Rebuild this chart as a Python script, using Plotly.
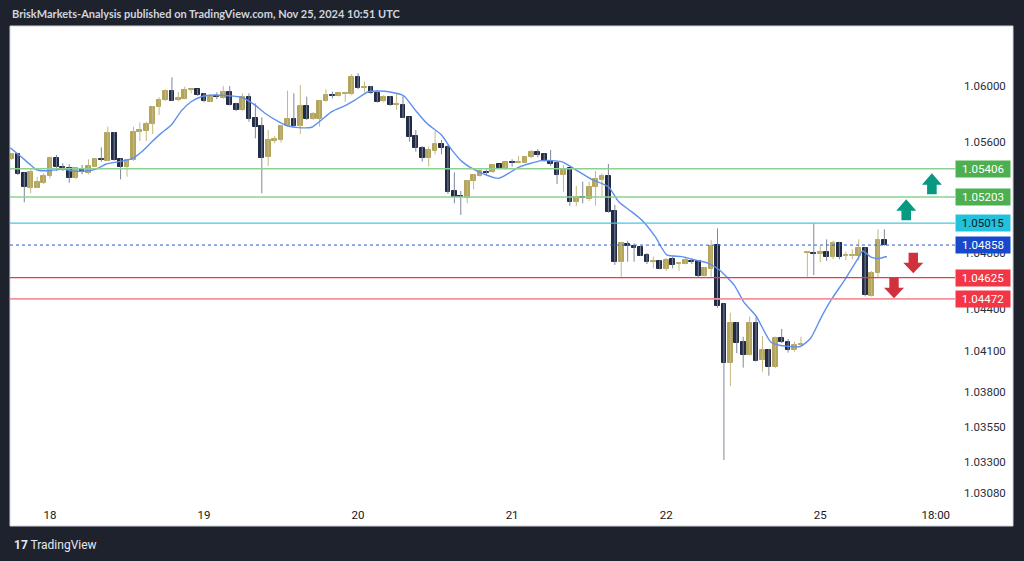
import plotly.graph_objects as go

# ---------------- data (EURUSD 1H) ----------------
bar_index = list(range(-6, 131))

open_ = [1.05476, 1.05510, 1.05373, 1.05270, 1.05270, 1.05306,
         1.05354, 1.05481, 1.05421, 1.05414, 1.05337, 1.05404, 1.05373, 1.05421, 1.05474, 1.05464,
         1.05660, 1.05476, 1.05416, 1.05469, 1.05668, 1.05679, 1.05725, 1.05851, 1.05899, 1.05964,
         1.05897, 1.05909, 1.05971, 1.05976, 1.05940, 1.05887, 1.05928, 1.05912, 1.05955, 1.05869,
         1.05828, 1.05919, 1.05768, 1.05713, 1.05488, 1.05605, 1.05612, 1.05713, 1.05761, 1.05713,
         1.05859, 1.05763, 1.05763, 1.05892, 1.05935, 1.05928, 1.05945, 1.05940, 1.06062, 1.05986,
         1.05991, 1.05948, 1.05892, 1.05923, 1.05866, 1.05864, 1.05775, 1.05641, 1.05553, 1.05481,
         1.05533, 1.05581, 1.05564, 1.05246, 1.05210, 1.05194, 1.05318, 1.05354, 1.05385, 1.05380,
         1.05438, 1.05404, 1.05457, 1.05450, 1.05450, 1.05488, 1.05524, 1.05512, 1.05464, 1.05450,
         1.05361, 1.05409, 1.05165, 1.05203, 1.05189, 1.05273, 1.05325, 1.05354, 1.05103, 1.04739,
         1.04866, 1.04854, 1.04842, 1.04787, 1.04737, 1.04743, 1.04686, 1.04756, 1.04719, 1.04722,
         1.04746, 1.04746, 1.04638, 1.04686, 1.04858, 1.04433, 1.04014, 1.04296, 1.04165, 1.04069,
         1.04296, 1.04033, 1.04105, 1.03980, 1.04193, 1.04160, 1.04105, 1.04141, 1.04801, 1.04804,
         1.04792, 1.04811, 1.04775, 1.04871, 1.04782, 1.04782, 1.04782, 1.04839, 1.04495, 1.04656,
         1.04894]
high = [1.05520, 1.05515, 1.05380, 1.05409, 1.05347, 1.05373,
        1.05493, 1.05505, 1.05445, 1.05438, 1.05418, 1.05433, 1.05474, 1.05483, 1.05560, 1.05708,
        1.05670, 1.05480, 1.05478, 1.05708, 1.05739, 1.05744, 1.05856, 1.05919, 1.05976, 1.06062,
        1.05957, 1.05995, 1.05978, 1.05979, 1.05950, 1.05943, 1.05955, 1.06000, 1.06000, 1.05880,
        1.05948, 1.05948, 1.05876, 1.05775, 1.05684, 1.05643, 1.05720, 1.05966, 1.05948, 1.06007,
        1.05923, 1.05813, 1.05899, 1.05976, 1.05959, 1.05959, 1.05959, 1.06086, 1.06091, 1.06031,
        1.06000, 1.05971, 1.05935, 1.05928, 1.05948, 1.05928, 1.05778, 1.05684, 1.05569, 1.05564,
        1.05677, 1.05612, 1.05576, 1.05380, 1.05246, 1.05325, 1.05366, 1.05402, 1.05402, 1.05438,
        1.05440, 1.05455, 1.05474, 1.05497, 1.05497, 1.05541, 1.05546, 1.05516, 1.05541, 1.05462,
        1.05433, 1.05412, 1.05282, 1.05313, 1.05313, 1.05390, 1.05373, 1.05440, 1.05146, 1.04882,
        1.04889, 1.04871, 1.04851, 1.04801, 1.04775, 1.04751, 1.04765, 1.04775, 1.04734, 1.04775,
        1.04763, 1.04751, 1.04700, 1.04894, 1.04978, 1.04439, 1.04373, 1.04305, 1.04200, 1.04344,
        1.04340, 1.04205, 1.04112, 1.04201, 1.04256, 1.04184, 1.04165, 1.04200, 1.04815, 1.05014,
        1.04851, 1.04899, 1.04889, 1.04882, 1.04811, 1.04828, 1.04899, 1.04843, 1.04672, 1.04971,
        1.04971]
low = [1.05470, 1.05360, 1.05165, 1.05230, 1.05268, 1.05296,
       1.05337, 1.05390, 1.05390, 1.05306, 1.05332, 1.05366, 1.05366, 1.05419, 1.05457, 1.05462,
       1.05465, 1.05330, 1.05349, 1.05462, 1.05605, 1.05605, 1.05655, 1.05792, 1.05892, 1.05892,
       1.05890, 1.05904, 1.05948, 1.05928, 1.05883, 1.05885, 1.05905, 1.05907, 1.05860, 1.05821,
       1.05821, 1.05744, 1.05624, 1.05230, 1.05426, 1.05589, 1.05593, 1.05706, 1.05706, 1.05655,
       1.05756, 1.05756, 1.05708, 1.05888, 1.05912, 1.05925, 1.05887, 1.05935, 1.05978, 1.05955,
       1.05943, 1.05880, 1.05883, 1.05856, 1.05828, 1.05768, 1.05600, 1.05528, 1.05457, 1.05421,
       1.05510, 1.05510, 1.05225, 1.05158, 1.05074, 1.05158, 1.05258, 1.05349, 1.05361, 1.05375,
       1.05404, 1.05400, 1.05421, 1.05445, 1.05445, 1.05483, 1.05488, 1.05458, 1.05426, 1.05296,
       1.05241, 1.05139, 1.05139, 1.05158, 1.05174, 1.05141, 1.05210, 1.05090, 1.04715, 1.04631,
       1.04739, 1.04739, 1.04780, 1.04722, 1.04691, 1.04683, 1.04672, 1.04691, 1.04674, 1.04719,
       1.04722, 1.04624, 1.04633, 1.04631, 1.04409, 1.03315, 1.03846, 1.04081, 1.03978, 1.04065,
       1.04022, 1.03949, 1.03920, 1.03975, 1.04155, 1.04086, 1.04093, 1.04134, 1.04631, 1.04643,
       1.04734, 1.04744, 1.04758, 1.04756, 1.04751, 1.04756, 1.04748, 1.04490, 1.04488, 1.04631,
       1.04851]
close = [1.05510, 1.05368, 1.05273, 1.05380, 1.05311, 1.05356,
         1.05481, 1.05416, 1.05414, 1.05337, 1.05409, 1.05380, 1.05426, 1.05474, 1.05467, 1.05660,
         1.05469, 1.05416, 1.05469, 1.05672, 1.05684, 1.05725, 1.05851, 1.05899, 1.05964, 1.05894,
         1.05916, 1.05971, 1.05975, 1.05933, 1.05894, 1.05923, 1.05919, 1.05955, 1.05864, 1.05828,
         1.05919, 1.05763, 1.05708, 1.05485, 1.05612, 1.05620, 1.05713, 1.05761, 1.05713, 1.05859,
         1.05761, 1.05799, 1.05892, 1.05935, 1.05928, 1.05948, 1.05950, 1.06062, 1.05983, 1.05993,
         1.05948, 1.05887, 1.05923, 1.05864, 1.05871, 1.05772, 1.05636, 1.05553, 1.05481, 1.05541,
         1.05581, 1.05557, 1.05237, 1.05205, 1.05201, 1.05318, 1.05361, 1.05392, 1.05378, 1.05433,
         1.05409, 1.05452, 1.05450, 1.05457, 1.05493, 1.05528, 1.05505, 1.05462, 1.05440, 1.05361,
         1.05404, 1.05165, 1.05205, 1.05194, 1.05277, 1.05330, 1.05354, 1.05098, 1.04739, 1.04871,
         1.04851, 1.04839, 1.04782, 1.04734, 1.04743, 1.04686, 1.04751, 1.04715, 1.04727, 1.04751,
         1.04737, 1.04636, 1.04691, 1.04853, 1.04422, 1.04014, 1.04296, 1.04157, 1.04069, 1.04296,
         1.04028, 1.04105, 1.03980, 1.04193, 1.04160, 1.04105, 1.04141, 1.04146, 1.04806, 1.04792,
         1.04811, 1.04775, 1.04871, 1.04775, 1.04789, 1.04789, 1.04835, 1.04500, 1.04656, 1.04894,
         1.04858]

# moving-average line, read at points along the curve (bar index, price)
ema_index = [-6.2, -4.5, -3, -2, 0, 2, 3.5, 5.6, 7.2, 8.8, 10.8, 12.9, 14.2, 15.8, 17.3, 18.9,
             20.5, 22, 23.6, 25.7, 27.7, 29.8, 31.9, 33.5, 35.6, 37.1, 38.7, 40.8, 42.3, 43.9,
             46, 47.5, 49.6, 51.2, 53.2, 55.1, 56.9, 58.7, 61, 62.6, 64.2, 66.5, 69.9, 73,
             76.6, 79.7, 81.8, 84.4, 87, 88.6, 90.6, 92.2, 94.3, 96.1, 98.4, 100.5, 102.6,
             104.3, 106.6, 108.1, 110, 112.3, 113.8, 116.9, 118.5, 120.1, 121.7, 123.8, 125.9,
             126.6, 128, 129.1, 130.4]
ema_value = [1.05557, 1.05492, 1.05433, 1.05397, 1.05392, 1.05404, 1.05390, 1.05390, 1.05404,
             1.05440, 1.05457, 1.05481, 1.05524, 1.05596, 1.05660, 1.05720, 1.05823, 1.05887,
             1.05923, 1.05935, 1.05930, 1.05919, 1.05864, 1.05804, 1.05744, 1.05713, 1.05701,
             1.05704, 1.05756, 1.05816, 1.05859, 1.05899, 1.05959, 1.05964, 1.05955, 1.05930,
             1.05828, 1.05732, 1.05648, 1.05541, 1.05457, 1.05390, 1.05337, 1.05416, 1.05464,
             1.05457, 1.05402, 1.05330, 1.05277, 1.05169, 1.05098, 1.05038, 1.04918, 1.04787,
             1.04775, 1.04751, 1.04727, 1.04679, 1.04571, 1.04449, 1.04349, 1.04162, 1.04137,
             1.04130, 1.04189, 1.04334, 1.04464, 1.04607, 1.04763, 1.04815, 1.04769, 1.04762,
             1.04776]

x_tick_index = [0, 24, 48, 72, 96, 120, 138]
x_tick_labels = ["18", "19", "20", "21", "22", "25", "18:00"]

y_tick_values = [1.06000, 1.05600, 1.04800, 1.04400, 1.04100, 1.03800, 1.03550, 1.03300, 1.03080]
y_tick_labels = ["1.06000", "1.05600", "1.04800", "1.04400", "1.04100", "1.03800",
                 "1.03550", "1.03300", "1.03080"]

level_values = [1.05406, 1.05203, 1.05015, 1.04858, 1.04625, 1.04472]
level_labels = ["1.05406", "1.05203", "1.05015", "1.04858", "1.04625", "1.04472"]

# drawn arrows: (bar index, price of tip, direction)
arrow_index = [137.4, 133.4, 134.5, 131.5]
arrow_price = [1.05373, 1.05187, 1.04655, 1.04476]
arrow_dir = ["up", "up", "down", "down"]

# ---------------- styling ----------------
W, H = 1024, 561
ML, MR, MT, MB = 10, 69, 26, 61
PW, PH = W - ML - MR, H - MT - MB

BG = "#1e222d"
UP_BODY, UP_WICK = "#b3a45e", "#c4b981"
DN_BODY, DN_WICK = "#222b45", "#7f8799"
EMA_COLOR = "#5f8ff0"

level_line = [("#8fd092", 1.6, "solid"), ("#8fd092", 1.6, "solid"), ("#4cc5df", 1.2, "solid"),
              ("#2a5bd7", 1.0, "dot"), ("#f23645", 1.3, "solid"), ("#f4929b", 1.6, "solid")]
level_box = [("#4caf50", "#ffffff"), ("#4caf50", "#ffffff"), ("#22c1dc", "#131722"),
             ("#1848cc", "#ffffff"), ("#f23645", "#ffffff"), ("#f23645", "#ffffff")]

fig = go.Figure()

# wicks
up_x, up_y, dn_x, dn_y = [], [], [], []
for i, o, h, l, c in zip(bar_index, open_, high, low, close):
    if c >= o:
        up_x += [i, i, None]; up_y += [l, h, None]
    else:
        dn_x += [i, i, None]; dn_y += [l, h, None]
fig.add_trace(go.Scatter(x=up_x, y=up_y, mode="lines", line=dict(color=UP_WICK, width=1),
                         hoverinfo="skip", showlegend=False))
fig.add_trace(go.Scatter(x=dn_x, y=dn_y, mode="lines", line=dict(color=DN_WICK, width=1),
                         hoverinfo="skip", showlegend=False))

# bodies
for up in (True, False):
    xs, base, hgt = [], [], []
    for i, o, c in zip(bar_index, open_, close):
        if (c >= o) == up:
            xs.append(i); base.append(min(o, c)); hgt.append(abs(c - o))
    col = UP_BODY if up else DN_BODY
    fig.add_trace(go.Bar(x=xs, y=hgt, base=base, width=0.74,
                         marker=dict(color=col, line=dict(color=col, width=1)),
                         hoverinfo="skip", showlegend=False))

# moving average
fig.add_trace(go.Scatter(x=ema_index, y=ema_value, mode="lines",
                         line=dict(color=EMA_COLOR, width=1.4, shape="spline", smoothing=0.6),
                         hoverinfo="skip", showlegend=False))

shapes = []
# white chart panel (behind everything)
shapes.append(dict(type="rect", xref="paper", yref="paper",
                   x0=(10 - ML) / PW, x1=(1013 - ML) / PW,
                   y0=(MT + PH - 526) / PH, y1=(MT + PH - 26) / PH,
                   fillcolor="#ffffff", line=dict(color="#cfd3da", width=1), layer="below"))

annotations = []
for v, lab, (lc, lw, ld), (bc, tc) in zip(level_values, level_labels, level_line, level_box):
    shapes.append(dict(type="line", xref="paper", yref="y", x0=0, x1=1, y0=v, y1=v,
                       line=dict(color=lc, width=lw, dash=ld), layer="above"))
    annotations.append(dict(xref="paper", yref="y", x=1, y=v, xanchor="left", yanchor="middle",
                            text=lab, showarrow=False, bgcolor=bc, width=52, height=14,
                            borderpad=1, align="center",
                            font=dict(family="Roboto, sans-serif", size=11.5, color=tc)))

# arrows (pixel-sized paths anchored at the tip)
for ai, ap, ad in zip(arrow_index, arrow_price, arrow_dir):
    if ad == "up":
        path = "M0,0 L10,-11.5 L4.8,-11.5 L4.8,-21 L-4.8,-21 L-4.8,-11.5 L-10,-11.5 Z"
        col = "#089981"
    else:
        path = "M0,0 L10,10.5 L4.7,10.5 L4.7,20.5 L-4.7,20.5 L-4.7,10.5 L-10,10.5 Z"
        col = "#d1313d"
    shapes.append(dict(type="path", xref="x", yref="y", xsizemode="pixel", ysizemode="pixel",
                       xanchor=ai, yanchor=ap, path=path, fillcolor=col,
                       line=dict(color=col, width=0), layer="above"))

annotations.append(dict(xref="paper", yref="paper", x=0, y=1 + 13 / PH, xanchor="left",
                        yanchor="middle", showarrow=False,
                        text="<b>BriskMarkets-Analysis published on TradingView.com, Nov 25, 2024 10:51 UTC</b>",
                        font=dict(family="Lato, sans-serif", size=11, color="#d1d4dc")))
annotations.append(dict(xref="paper", yref="paper", x=2 / PW, y=-45 / PH, xanchor="left",
                        yanchor="middle", showarrow=False,
                        text="<b>17</b> TradingView",
                        font=dict(family="Roboto, sans-serif", size=12, color="#e6e8ee")))

fig.update_layout(
    width=W, height=H,
    margin=dict(l=ML, r=MR, t=MT, b=MB, pad=0),
    paper_bgcolor=BG, plot_bgcolor="rgba(0,0,0,0)",
    barmode="overlay", bargap=0,
    shapes=shapes, annotations=annotations,
    showlegend=False,
    xaxis=dict(range=[-6.23, 141.0], showgrid=False, zeroline=False, showline=False,
               tickmode="array", tickvals=x_tick_index, ticktext=x_tick_labels,
               ticks="", ticklabelstandoff=6,
               tickfont=dict(family="Roboto, sans-serif", size=11.5, color="#131722"),
               fixedrange=True),
    yaxis=dict(range=[1.030279, 1.064307], side="right", showgrid=False, zeroline=False,
               showline=False, tickmode="array", tickvals=y_tick_values, ticktext=y_tick_labels,
               ticks="", ticklabelstandoff=8,
               tickfont=dict(family="Roboto, sans-serif", size=11.5, color="#2a2e39"),
               fixedrange=True),
)

fig.write_html("out.html", include_plotlyjs=True, config={"displayModeBar": False})
